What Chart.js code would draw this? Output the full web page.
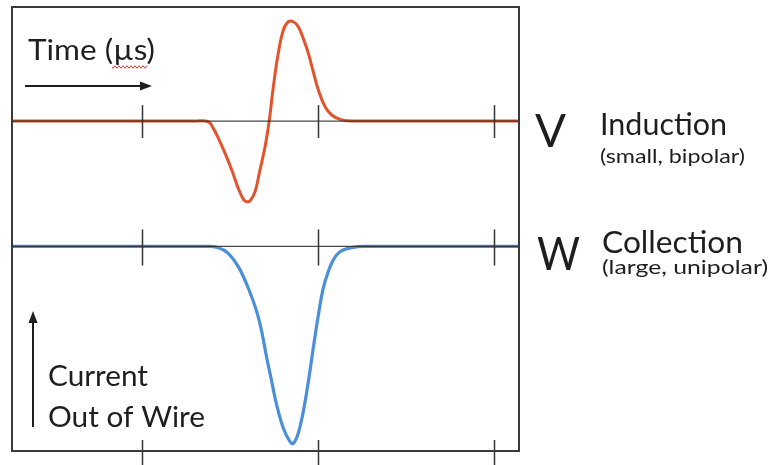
<!DOCTYPE html>
<html>
<head>
<meta charset="utf-8">
<script src="https://cdn.jsdelivr.net/npm/chart.js@4"></script>
<style>
  html, body { margin: 0; padding: 0; background: #ffffff; }
  #wrap { position: relative; width: 769px; height: 465px; }
  canvas { display: block; }
</style>
</head>
<body>
<div id="wrap"><canvas id="c" width="769" height="465"></canvas></div>
<script>
// ---- data (time in µs, signal in arbitrary current units) ----
const timeV = [0.26, 1.301, 1.377, 1.405, 1.434, 1.472, 1.510, 1.547, 1.576, 1.595, 1.614, 1.642, 1.670, 1.699, 1.722, 1.746, 1.774, 1.803, 1.831, 1.860, 1.888, 1.916, 1.945, 1.973, 2.002, 2.040, 2.078, 2.125, 2.172, 2.239, 3.15];
const ampV  = [0, 0, -0.007, -0.074, -0.175, -0.326, -0.495, -0.680, -0.791, -0.815, -0.805, -0.714, -0.495, -0.260, -0.007, 0.346, 0.684, 0.919, 1.003, 1.003, 0.953, 0.835, 0.684, 0.498, 0.313, 0.144, 0.061, 0.017, 0.003, 0, 0];

const timeW = [0.26, 1.358, 1.434, 1.490, 1.547, 1.604, 1.652, 1.680, 1.709, 1.737, 1.765, 1.803, 1.841, 1.860, 1.888, 1.916, 1.945, 1.973, 2.002, 2.030, 2.058, 2.087, 2.125, 2.191, 2.267, 3.155];
const ampW  = [0, 0, -0.012, -0.069, -0.204, -0.422, -0.659, -0.861, -1.129, -1.366, -1.601, -1.836, -1.972, -1.990, -1.884, -1.669, -1.366, -1.025, -0.692, -0.419, -0.255, -0.136, -0.053, -0.012, 0, 0];

const tickTimes = [1, 2, 3];

const textTime = "Time (µs)";
const textV = "V", textInd = "Induction", textIndSub = "(small, bipolar)";
const textW = "W", textCol = "Collection", textColSub = "(large, unipolar)";
const textCur1 = "Current", textCur2 = "Out of Wire";

const RED = '#e2542c';
const BLUE = '#4b8fd8';
const INK = '#1e1e1e';
const FONT = 'Lato, "Open Sans", "DejaVu Sans", sans-serif';

function fitText(ctx, str, x, y, size, targetW, weight) {
  ctx.save();
  ctx.font = (weight || 'normal') + ' ' + size + 'px ' + FONT;
  ctx.textAlign = 'left';
  ctx.textBaseline = 'alphabetic';
  ctx.fillStyle = INK;
  const w = ctx.measureText(str).width;
  ctx.translate(x, y);
  if (targetW && w > 0) ctx.scale(targetW / w, 1);
  ctx.fillText(str, 0, 0);
  ctx.restore();
}

const decor = {
  id: 'decor',
  afterDatasetsDraw(chart) {
    const ctx = chart.ctx;
    const a = chart.chartArea;
    const xs = chart.scales.x, yv = chart.scales.yV, yw = chart.scales.yW;
    const y0v = yv.getPixelForValue(0), y0w = yw.getPixelForValue(0);
    ctx.save();
    // baseline axes
    ctx.strokeStyle = 'rgba(40,40,40,0.85)';
    ctx.lineWidth = 1.2;
    [y0v, y0w].forEach(y => {
      ctx.beginPath(); ctx.moveTo(a.left, y); ctx.lineTo(a.right, y); ctx.stroke();
    });
    // tick marks
    ctx.strokeStyle = '#333';
    ctx.lineWidth = 1.5;
    tickTimes.forEach(t => {
      const px = Math.round(xs.getPixelForValue(t)) + 0.5;
      ctx.beginPath(); ctx.moveTo(px, y0v - 16); ctx.lineTo(px, y0v + 17); ctx.stroke();
      ctx.beginPath(); ctx.moveTo(px, y0w - 17); ctx.lineTo(px, y0w + 19); ctx.stroke();
      ctx.beginPath(); ctx.moveTo(px, a.bottom - 11); ctx.lineTo(px, a.bottom + 14); ctx.stroke();
    });
    // frame
    ctx.strokeStyle = '#3a3a3a';
    ctx.lineWidth = 2;
    ctx.strokeRect(a.left, a.top, a.right - a.left, a.bottom - a.top);

    // time arrow
    ctx.strokeStyle = INK; ctx.fillStyle = INK; ctx.lineWidth = 2;
    ctx.beginPath(); ctx.moveTo(25, 86); ctx.lineTo(143, 86); ctx.stroke();
    ctx.beginPath(); ctx.moveTo(152, 86); ctx.lineTo(140, 81.5); ctx.lineTo(140, 90.5); ctx.closePath(); ctx.fill();
    // current arrow
    ctx.beginPath(); ctx.moveTo(33, 427); ctx.lineTo(33, 321); ctx.stroke();
    ctx.beginPath(); ctx.moveTo(33, 311); ctx.lineTo(28.5, 323); ctx.lineTo(37.5, 323); ctx.closePath(); ctx.fill();

    // texts
    fitText(ctx, textTime, 28, 60, 29, 127);
    // wavy red underline under "µs"
    ctx.strokeStyle = '#d83a3a'; ctx.lineWidth = 1;
    ctx.beginPath();
    for (let x = 112; x <= 147; x += 1) {
      const y = 67 + 1.3 * Math.sin((x - 112) * Math.PI / 2);
      if (x === 112) ctx.moveTo(x, y); else ctx.lineTo(x, y);
    }
    ctx.stroke();

    fitText(ctx, textV, 535, 147, 47, 31);
    fitText(ctx, textInd, 600, 135, 30, 127);
    fitText(ctx, textIndSub, 600, 163, 19, 145);
    fitText(ctx, textW, 537, 270, 47, 43);
    fitText(ctx, textCol, 602, 253, 30, 141);
    fitText(ctx, textColSub, 602, 274, 19, 166);
    fitText(ctx, textCur1, 48, 386, 29, 100);
    fitText(ctx, textCur2, 48, 427, 29, 157);
    ctx.restore();
  }
};

new Chart(document.getElementById('c'), {
  type: 'line',
  data: {
    datasets: [
      { label: 'V', data: timeV.map((t, i) => ({ x: t, y: ampV[i] })), yAxisID: 'yV',
        borderColor: RED, borderWidth: 3, pointRadius: 0, tension: 0.4, fill: false },
      { label: 'W', data: timeW.map((t, i) => ({ x: t, y: ampW[i] })), yAxisID: 'yW',
        borderColor: BLUE, borderWidth: 3.2, pointRadius: 0, tension: 0.4, fill: false }
    ]
  },
  options: {
    responsive: false,
    animation: false,
    events: [],
    layout: { padding: { left: 12, top: 7, right: 250, bottom: 14 } },
    plugins: { legend: { display: false }, tooltip: { enabled: false } },
    scales: {
      x: { type: 'linear', min: 0.261, max: 3.142, display: false },
      yV: { type: 'linear', min: -3.333, max: 1.152, display: false },
      yW: { type: 'linear', min: -2.066, max: 2.419, display: false }
    }
  },
  plugins: [decor]
});
</script>
</body>
</html>
